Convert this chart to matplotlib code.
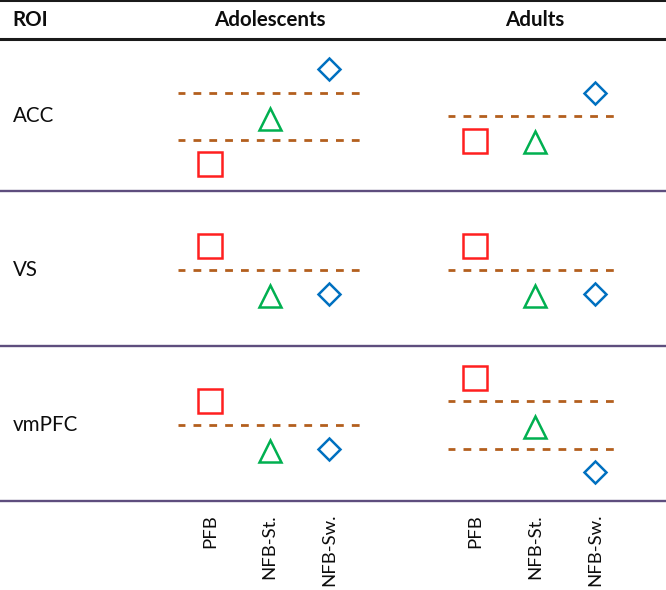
import matplotlib
matplotlib.use('Agg')
import matplotlib.pyplot as plt
from matplotlib.lines import Line2D
from matplotlib.transforms import blended_transform_factory as btf

# ---------------- data ----------------
rois = ['ACC', 'VS', 'vmPFC']
groups = ['Adolescents', 'Adults']
conditions = ['PFB', 'NFB-St.', 'NFB-Sw.']

# relative level of each condition (rows: ROI, columns: condition)
adolescents_levels = [[-2.0, -0.1, 2.0],
                      [1.0, -1.1, -1.0],
                      [1.0, -1.1, -1.0]]
adults_levels = [[-1.05, -1.1, 1.0],
                 [1.0, -1.1, -1.0],
                 [2.0, -0.1, -2.0]]
# dashed reference levels in each cell
adolescents_cutoffs = [[1.0, -1.0], [0.0], [0.0]]
adults_cutoffs = [[0.0], [0.0], [1.0, -1.0]]

# ---------------- style ----------------
marker_styles = [('s', 16.6, '#FF1F1F'), ('^', 16.5, '#00B050'), ('D', 11.3, '#0070C0')]
dash_color = '#B35F1E'
sep_color = '#5E4E7E'
font = ['Lato', 'DejaVu Sans']
plt.rcParams['font.family'] = font

W, H = 666, 590
fig = plt.figure(figsize=(W / 100, H / 100), dpi=100)


def fx(px):
    return px / W


def fy(py):
    return 1 - py / H


row_edges = [38.7, 191, 346, 501]
unit = 23.7
zero_shift = 1.5
# px left, px right, px of first category, px spacing
col_spans = [(178, 360, 210, 59.5), (448, 620, 475, 60)]

levels_by_group = [adolescents_levels, adults_levels]
cutoffs_by_group = [adolescents_cutoffs, adults_cutoffs]

axes_grid = []
for r, roi in enumerate(rois):
    T, B = row_edges[r], row_edges[r + 1]
    zero_px = (T + B) / 2 + zero_shift
    row_axes = []
    for g, group in enumerate(groups):
        L, R, c0, sp = col_spans[g]
        ax = fig.add_axes([fx(L), fy(B), fx(R) - fx(L), (B - T) / H])
        ax.set_xlim((L - c0) / sp, (R - c0) / sp)
        ax.set_ylim(-(B - zero_px) / unit, (zero_px - T) / unit)
        ax.axis('off')
        for c in cutoffs_by_group[g][r]:
            ax.axhline(c, color=dash_color, lw=2.0, ls=(0.3, (2.8, 2.9)),
                       solid_capstyle='butt', dash_capstyle='butt')
        for i, cond in enumerate(conditions):
            m, ms, col = marker_styles[i]
            ax.plot([i], [levels_by_group[g][r][i]], marker=m, ms=ms,
                    mfc='none', mec=col, mew=1.8, ls='none', clip_on=False)
        row_axes.append(ax)
    axes_grid.append(row_axes)
    # ROI label
    ax0 = row_axes[0]
    ax0.text(fx(12.5), 0, roi, transform=btf(fig.transFigure, ax0.transData),
             ha='left', va='center', fontsize=14.8, color='#0D0D0D')

# header
fig.text(fx(12.5), fy(19.5), 'ROI', ha='left', va='center',
         fontsize=14.8, fontweight='bold', color='#0D0D0D')
for g, group in enumerate(groups):
    ax = axes_grid[0][g]
    ax.text(1, fy(19.5), group, transform=btf(ax.transData, fig.transFigure),
            ha='center', va='center', fontsize=14.8, fontweight='bold',
            color='#0D0D0D')

# condition labels below the table
for g in range(len(groups)):
    ax = axes_grid[-1][g]
    for i, cond in enumerate(conditions):
        ax.text(i, fy(514), cond, transform=btf(ax.transData, fig.transFigure),
                rotation=90, ha='center', va='top', fontsize=13.3,
                color='#0D0D0D')

# rules
fig.add_artist(Line2D([0, 1], [fy(0.3)] * 2, transform=fig.transFigure,
                      color='#1A1A1A', lw=2.2))
fig.add_artist(Line2D([0, 1], [fy(38.7)] * 2, transform=fig.transFigure,
                      color='#1A1A1A', lw=2.2))
for y in row_edges[1:]:
    fig.add_artist(Line2D([0, 1], [fy(y)] * 2, transform=fig.transFigure,
                          color=sep_color, lw=1.7))

fig.savefig('out.png', dpi=100, facecolor='white')
